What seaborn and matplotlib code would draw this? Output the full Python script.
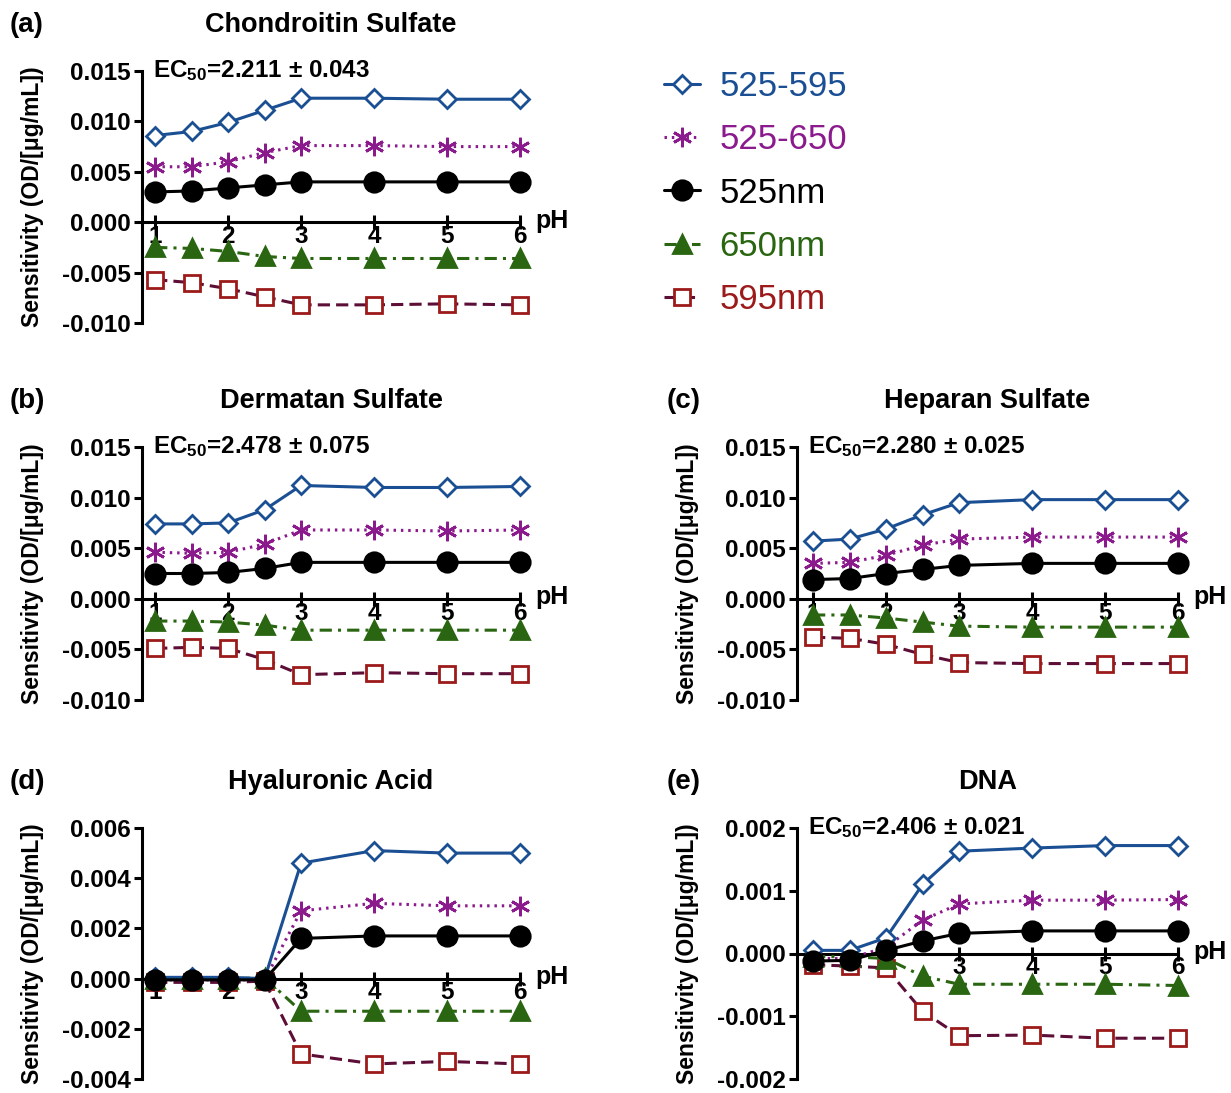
import numpy as np
import pandas as pd
import matplotlib
matplotlib.use("Agg")
import matplotlib.pyplot as plt
import seaborn as sns

# ---------------- data ----------------
ph = [1, 1.5, 2, 2.5, 3, 4, 5, 6]
series_names = ["525-595", "525-650", "525nm", "650nm", "595nm"]

cs_525_595 = [0.0086, 0.0090, 0.0099, 0.0111, 0.0123, 0.0123, 0.0122, 0.0122]
cs_525_650 = [0.0055, 0.0055, 0.0060, 0.0069, 0.0076, 0.0076, 0.0075, 0.0075]
cs_525 = [0.0030, 0.0031, 0.0034, 0.0037, 0.0040, 0.0040, 0.0040, 0.0040]
cs_650 = [-0.0025, -0.0026, -0.0029, -0.0034, -0.0036, -0.0036, -0.0036, -0.0036]
cs_595 = [-0.0057, -0.0060, -0.0066, -0.0074, -0.0082, -0.0082, -0.0081, -0.0082]

ds_525_595 = [0.0074, 0.0074, 0.0075, 0.0088, 0.0112, 0.0110, 0.0110, 0.0111]
ds_525_650 = [0.0046, 0.0045, 0.0046, 0.0054, 0.0068, 0.0068, 0.0067, 0.0068]
ds_525 = [0.0025, 0.0025, 0.0026, 0.0030, 0.0036, 0.0036, 0.0036, 0.0036]
ds_650 = [-0.0022, -0.0022, -0.0023, -0.0026, -0.0031, -0.0031, -0.0031, -0.0031]
ds_595 = [-0.0049, -0.0048, -0.0049, -0.0060, -0.0075, -0.0073, -0.0074, -0.0074]

hs_525_595 = [0.0057, 0.0059, 0.0069, 0.0083, 0.0095, 0.0098, 0.0098, 0.0098]
hs_525_650 = [0.0035, 0.0036, 0.0043, 0.0053, 0.0059, 0.0061, 0.0061, 0.0061]
hs_525 = [0.0019, 0.0020, 0.0025, 0.0029, 0.0033, 0.0035, 0.0035, 0.0035]
hs_650 = [-0.0016, -0.0016, -0.0019, -0.0023, -0.0027, -0.0028, -0.0028, -0.0028]
hs_595 = [-0.0038, -0.0039, -0.0045, -0.0055, -0.0063, -0.0064, -0.0064, -0.0064]

ha_525_595 = [0.00005, 0.00005, 0.00005, 0.00000, 0.0046, 0.0051, 0.0050, 0.0050]
ha_525_650 = [-0.00005, -0.00005, -0.00005, -0.00005, 0.0027, 0.0030, 0.0029, 0.0029]
ha_525 = [-0.00005, -0.00005, -0.00005, -0.00005, 0.0016, 0.0017, 0.0017, 0.0017]
ha_650 = [0.00000, 0.00000, 0.00000, 0.00003, -0.0013, -0.0013, -0.0013, -0.0013]
ha_595 = [-0.00015, -0.00015, -0.00015, -0.00010, -0.0030, -0.0034, -0.0033, -0.0034]

dna_525_595 = [0.00005, 0.00005, 0.00025, 0.00110, 0.00163, 0.00168, 0.00172, 0.00172]
dna_525_650 = [-0.00008, -0.00008, 0.00010, 0.00053, 0.00079, 0.00085, 0.00085, 0.00086]
dna_525 = [-0.00012, -0.00011, 0.00005, 0.00020, 0.00032, 0.00036, 0.00036, 0.00036]
dna_650 = [-0.00005, -0.00005, -0.00008, -0.00036, -0.00049, -0.00049, -0.00049, -0.00051]
dna_595 = [-0.00018, -0.00020, -0.00023, -0.00092, -0.00131, -0.00130, -0.00135, -0.00135]

panel_titles = ["Chondroitin Sulfate", "Dermatan Sulfate", "Heparan Sulfate",
                "Hyaluronic Acid", "DNA"]
panel_letters = ["(a)", "(b)", "(c)", "(d)", "(e)"]
ec50_labels = ["2.211 ± 0.043", "2.478 ± 0.075", "2.280 ± 0.025", None, "2.406 ± 0.021"]
x_ticks = [1, 2, 3, 4, 5, 6]
x_ticklabels = ["1", "2", "3", "4", "5", "6"]
yticks_gag = [0.015, 0.010, 0.005, 0.000, -0.005, -0.010]
yticklabels_gag = ["0.015", "0.010", "0.005", "0.000", "-0.005", "-0.010"]
yticks_ha = [0.006, 0.004, 0.002, 0.000, -0.002, -0.004]
yticklabels_ha = ["0.006", "0.004", "0.002", "0.000", "-0.002", "-0.004"]
yticks_dna = [0.002, 0.001, 0.000, -0.001, -0.002]
yticklabels_dna = ["0.002", "0.001", "0.000", "-0.001", "-0.002"]

panel_data = [
    [cs_525_595, cs_525_650, cs_525, cs_650, cs_595],
    [ds_525_595, ds_525_650, ds_525, ds_650, ds_595],
    [hs_525_595, hs_525_650, hs_525, hs_650, hs_595],
    [ha_525_595, ha_525_650, ha_525, ha_650, ha_595],
    [dna_525_595, dna_525_650, dna_525, dna_650, dna_595],
]
panel_yticks = [(yticks_gag, yticklabels_gag)] * 3 + [(yticks_ha, yticklabels_ha),
                                                      (yticks_dna, yticklabels_dna)]

# ---------------- style ----------------
sns.set_theme(style="ticks")
plt.rcParams["font.family"] = ["Liberation Sans", "DejaVu Sans"]
plt.rcParams["mathtext.fontset"] = "custom"
plt.rcParams["mathtext.rm"] = "Liberation Sans"
plt.rcParams["mathtext.bf"] = "Liberation Sans:bold"
plt.rcParams["axes.unicode_minus"] = False
for key in ["text.color", "axes.labelcolor", "xtick.color", "ytick.color",
            "axes.edgecolor", "xtick.labelcolor", "ytick.labelcolor"]:
    plt.rcParams[key] = "black"

BLUE = "#1b4f93"
PURPLE = "#8b1a8d"
BLACK = "#000000"
GREEN = "#2a6611"
RED_M = "#9c1a1a"
RED_L = "#5c0e36"

styles = {
    "525-595": dict(color=BLUE, marker="D", markersize=9.5, markerfacecolor="white",
                    markeredgecolor=BLUE, linestyle="-", zorder=5),
    "525-650": dict(color=PURPLE, marker=(6, 2, 0), markersize=14, markerfacecolor=PURPLE,
                    markeredgecolor=PURPLE, linestyle=(0, (0.8, 1.6)), zorder=4),
    "525nm": dict(color=BLACK, marker="o", markersize=14, markerfacecolor=BLACK,
                  markeredgecolor=BLACK, linestyle="-", zorder=6),
    "650nm": dict(color=GREEN, marker="^", markersize=13, markerfacecolor=GREEN,
                  markeredgecolor=GREEN, linestyle=(0, (4, 2, 1, 2)), zorder=3),
    "595nm": dict(color=RED_L, marker="s", markersize=12, markerfacecolor="white",
                  markeredgecolor=RED_M, linestyle=(0, (4, 2)), zorder=2),
}
label_colors = [BLUE, PURPLE, BLACK, GREEN, RED_M]

W, H = 1231, 1093
fig = plt.figure(figsize=(W / 100, H / 100), dpi=100)

# axes boxes in pixels: (left spine x, top y, bottom y, x-axis width px, xmin)
boxes = [
    (142, 71, 323, 378, 0.82),
    (142, 447, 700, 378, 0.82),
    (797, 447, 700, 381, 0.78),
    (142, 828, 1079, 378, 0.82),
    (797, 828, 1079, 381, 0.78),
]
title_y = [25, 401, 401, 782, 782]
letter_pos = [(10, 25), (10, 401), (667, 401), (10, 782), (667, 782)]

legend_handles = None
for i, (left, top, bottom, width, xmin) in enumerate(boxes):
    ax = fig.add_axes([left / W, 1 - bottom / H, width / W, (bottom - top) / H])
    yt, ytl = panel_yticks[i]
    handles = []
    for name, vals in zip(series_names, panel_data[i]):
        st = dict(styles[name])
        z = st.pop("zorder")
        sns.lineplot(x=ph, y=vals, ax=ax, linewidth=2.2, markeredgewidth=2.0,
                     clip_on=False, zorder=z, label=name, legend=False, **st)
        handles.append(ax.lines[-1])
    if legend_handles is None:
        legend_handles = handles

    ax.set_xlim(xmin, 6)
    ax.set_ylim(min(yt), max(yt))
    for s in ["top", "right"]:
        ax.spines[s].set_visible(False)
    ax.spines["bottom"].set_position(("data", 0))
    ax.spines["bottom"].set_linewidth(2.2)
    ax.spines["left"].set_linewidth(2.2)
    ax.spines["bottom"].set_zorder(1)
    ax.set_xticks(x_ticks)
    ax.set_xticklabels(x_ticklabels, fontsize=17.5, fontweight="bold")
    ax.set_yticks(yt)
    ax.set_yticklabels(ytl, fontsize=17.5, fontweight="bold")
    ax.tick_params(axis="x", direction="inout", length=10, width=2.2, pad=-3)
    ax.tick_params(axis="y", direction="out", length=6, width=2.2, pad=2)
    ax.set_xlabel("")
    ax.set_ylabel("Sensitivity (OD/[μg/mL])", fontsize=16.5, fontweight="bold")
    ax.yaxis.set_label_coords(-98 / width, 0.5)
    ax.patch.set_alpha(0)

    ax.annotate("pH", xy=(6, 0), xycoords="data", xytext=(11, 1),
                textcoords="offset points", ha="left", va="center",
                fontsize=18, fontweight="bold", annotation_clip=False)
    if ec50_labels[i] is not None:
        ax.annotate(r"$\mathbf{EC_{50}}$=" + ec50_labels[i], xy=(0, 1),
                    xycoords="axes fraction", xytext=(8, 0),
                    textcoords="offset points", ha="left", va="center",
                    fontsize=17.5, fontweight="bold", annotation_clip=False)

    cx = left + width / 2
    fig.text(cx / W, 1 - title_y[i] / H, panel_titles[i], ha="center", va="center",
             fontsize=19.5, fontweight="bold")
    lx, ly = letter_pos[i]
    fig.text(lx / W, 1 - ly / H, panel_letters[i], ha="left", va="center",
             fontsize=20, fontweight="bold")

fig.legend(handles=legend_handles, labels=series_names, loc="upper left",
           bbox_to_anchor=(664 / W, 1 - 70 / H), frameon=False,
           prop={"size": 25}, handlelength=1.05, handletextpad=0.55,
           labelspacing=0.585, borderpad=0, borderaxespad=0,
           labelcolor=label_colors)

fig.savefig("out.png", dpi=100)
